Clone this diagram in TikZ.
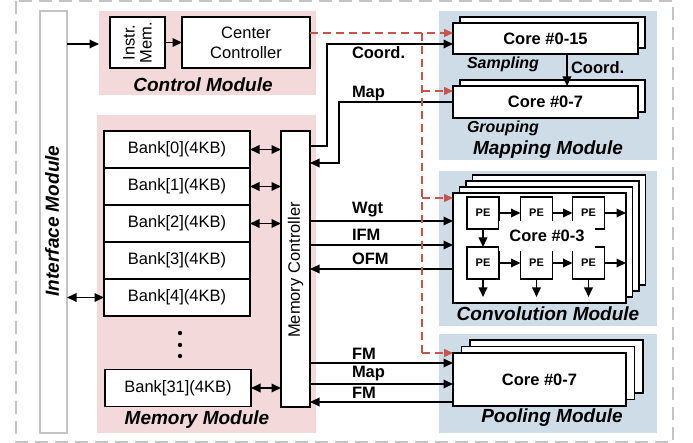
\documentclass[tikz,border=0pt]{standalone}
\usepackage{fontspec}
\setmainfont{Liberation Sans}
\usepackage{xcolor}
\definecolor{memPink}{HTML}{F3D9D9}
\definecolor{accBlue}{HTML}{CEDCE8}
\definecolor{ctlRed}{HTML}{C8544C}
\definecolor{frameGray}{HTML}{C4C4C4}
\usetikzlibrary{arrows.meta,calc}

\tikzset{
  every node/.style={inner sep=0pt, outer sep=0pt},
  box/.style={draw=black, fill=white, line width=1.6pt},
  corebox/.style={box, minimum width=185pt, minimum height=31pt,
    font=\fontsize{16.5}{18}\selectfont\bfseries},
  pebox/.style={box, minimum width=32pt, minimum height=32pt,
    font=\fontsize{11}{12}\selectfont\bfseries},
  bankbox/.style={box, minimum width=146pt, minimum height=37pt,
    font=\fontsize{16.5}{18}\selectfont},
  modbg/.style={draw=none},
  modlabel/.style={font=\fontsize{19}{21}\selectfont\bfseries\itshape},
  sublabel/.style={font=\fontsize{16}{18}\selectfont\bfseries\itshape},
  siglabel/.style={anchor=west, font=\fontsize{16.5}{18}\selectfont\bfseries},
  data/.style={line width=1.8pt, -{Triangle[length=9.5pt,width=8.5pt]}},
  data2/.style={line width=1.8pt, {Triangle[length=9.5pt,width=8.5pt]}-{Triangle[length=9.5pt,width=8.5pt]}},
  ctl/.style={draw=ctlRed, line width=1.4pt, dash pattern=on 8pt off 5pt},
  ctlarrow/.style={ctl, -{Triangle[length=9pt,width=8pt]}}
}

\begin{document}
\begin{tikzpicture}[x=1pt, y=-1pt]
  \useasboundingbox (0,0) rectangle (693,443);
  % outer frame
  \draw[frameGray, line width=2pt, dash pattern=on 13pt off 7pt] (16,1) rectangle (673,442);

  % interface
  \node[draw=frameGray, fill=white, line width=1.6pt, minimum width=27pt, minimum height=422pt] (iface) at (53.5,222) {};
  \node[modlabel, rotate=90] (ifacelbl) at (52,221) {Interface Module};

  % module backgrounds
  \node[modbg, fill=memPink, minimum width=217pt, minimum height=84pt] (ctrlbg) at (207.5,53) {};
  \node[modbg, fill=memPink, minimum width=219pt, minimum height=318pt] (membg) at (206.5,274) {};
  \node[modbg, fill=accBlue, minimum width=218pt, minimum height=149pt] (mapbg) at (548,85.5) {};
  \node[modbg, fill=accBlue, minimum width=218pt, minimum height=155pt] (convbg) at (548,248.5) {};
  \node[modbg, fill=accBlue, minimum width=218pt, minimum height=99pt] (poolbg) at (548,383.5) {};

  % control module
  \node[box, minimum width=55pt, minimum height=51pt] (imem) at (137.5,42.5) {};
  \node[rotate=90, align=center, font=\fontsize{16.5}{17}\selectfont] (imemlbl) at (137.5,42.5) {Instr.\\Mem.};
  \node[box, minimum width=128pt, minimum height=51pt, align=center,
    font=\fontsize{16.5}{20}\selectfont] (cc) at (246,42.5) {Center\\Controller};
  \node[modlabel] (ctrllbl) at (203,85) {Control Module};

  % memory module
  \foreach \i/\y in {0/149.5, 1/186.5, 2/223.5, 3/260.5, 4/297.5}
    \node[bankbox] (bank\i) at (177,\y) {Bank[\i](4KB)};
  \node[bankbox] (bank31) at (178,388) {Bank[31](4KB)};
  \foreach \y in {333,345,356}
    \fill (180,\y) circle (2.2pt);
  \node[box, minimum width=29pt, minimum height=276pt] (mc) at (295.5,269) {};
  \node[rotate=90, font=\fontsize{16.5}{18}\selectfont] (mclbl) at (295.5,270) {Memory Controller};
  \node[modlabel] (memlbl) at (197,420) {Memory Module};

  % mapping module
  \node[box, minimum width=185pt, minimum height=31pt] (core15s) at (552.5,32.5) {};
  \node[corebox] (core15) at (545.5,38.5) {Core \#0-15};
  \node[box, minimum width=185pt, minimum height=32pt] (core7ms) at (552.5,96) {};
  \node[corebox, minimum height=32pt] (core7m) at (545.5,102) {Core \#0-7};
  \node[sublabel] (samplbl) at (503,64) {Sampling};
  \node[sublabel] (grplbl) at (503,128) {Grouping};
  \node[modlabel] (maplbl) at (548,150) {Mapping Module};
  \draw[data] (core15.south -| 567,0) -- (core7m.north -| 567,0);
  \node[siglabel] (coordin) at (571,68) {Coord.};

  % convolution module
  \foreach \k in {3,2,1}
    \node[box, minimum width=173pt, minimum height=110pt] (convs\k) at (539.5+\k*6.5,248-\k*6) {};
  \node[box, minimum width=173pt, minimum height=110pt] (conv) at (539.5,248) {};
  \foreach \c/\x in {1/483, 2/536.5, 3/588.5} {
    \node[pebox] (pea\c) at (\x,213) {PE};
    \node[pebox] (peb\c) at (\x,263) {PE};
  }
  \node[fill=white, minimum width=96pt, minimum height=30pt,
    font=\fontsize{16.5}{18}\selectfont\bfseries] (convlbl) at (547,236) {Core \#0-3};
  \draw[data] (pea1) -- (pea2);
  \draw[data] (pea2) -- (pea3);
  \draw[data] (pea3) -- (pea3 -| conv.east);
  \draw[data] (peb1) -- (peb2);
  \draw[data] (peb2) -- (peb3);
  \draw[data] (peb3) -- (peb3 -| conv.east);
  \draw[data] (pea1) -- (peb1);
  \foreach \c in {1,2,3}
    \draw[data] (peb\c.south) -- ++(0,18);
  \node[modlabel] (convmod) at (548,314) {Convolution Module};

  % pooling module
  \foreach \k in {2,1}
    \node[box, minimum width=173pt, minimum height=53pt] (pools\k) at (539.5+\k*8.5,379.5-\k*6.5) {};
  \node[box, minimum width=173pt, minimum height=53pt,
    font=\fontsize{16.5}{18}\selectfont\bfseries] (pool) at (539.5,379.5) {Core \#0-7};
  \node[modlabel] (poollbl) at (552,418) {Pooling Module};

  % interface and bank links
  \draw[data] (iface.east |- 0,44) -- (ctrlbg.west |- 0,44);
  \draw[data] (imem) -- (cc);
  \draw[data2] (iface.east |- bank4) -- (bank4.west);
  \foreach \i in {0,1,2,31}
    \draw[data2] (bank\i.east) -- (mc.west |- bank\i);

  % memory controller to mapping
  \draw[data] (mc.east |- 0,146) -- (327,146) |- (core15.west |- 0,44);
  \node[siglabel] (coordlbl) at (352,53) {Coord.};
  \draw[data] (core7m.west) -- (339,102) |- (mc.east |- 0,163);
  \node[siglabel] (maplbl2) at (352,94) {Map};

  % memory controller to convolution
  \draw[data] (mc.east |- 0,221) -- (conv.west |- 0,221);
  \draw[data] (mc.east |- 0,245) -- (conv.west |- 0,245);
  \draw[data] (conv.west |- 0,269) -- (mc.east |- 0,269);
  \node[siglabel] (wgtlbl) at (352,210) {Wgt};
  \node[siglabel] (ifmlbl) at (352,235) {IFM};
  \node[siglabel] (ofmlbl) at (352,259) {OFM};

  % memory controller to pooling
  \draw[data] (mc.east |- 0,363) -- (pool.west |- 0,363);
  \draw[data] (mc.east |- 0,384) -- (pool.west |- 0,384);
  \draw[data] (pool.west |- 0,402) -- (mc.east |- 0,402);
  \node[siglabel] (fmlbl) at (352,354) {FM};
  \node[siglabel] (pmaplbl) at (352,374) {Map};
  \node[siglabel] (fmlbl2) at (352,393) {FM};

  % control signals
  \coordinate (bus) at (422,33);
  \draw[ctlarrow] (cc.east |- bus) -- (core15.west |- bus);
  \draw[ctl] (bus) -- (422,353);
  \draw[ctlarrow] (422,91) -- (core7m.west |- 0,91);
  \draw[ctlarrow] (422,198) -- (conv.west |- 0,198);
  \draw[ctlarrow] (422,353) -- (pool.north west);
\end{tikzpicture}
\end{document}
